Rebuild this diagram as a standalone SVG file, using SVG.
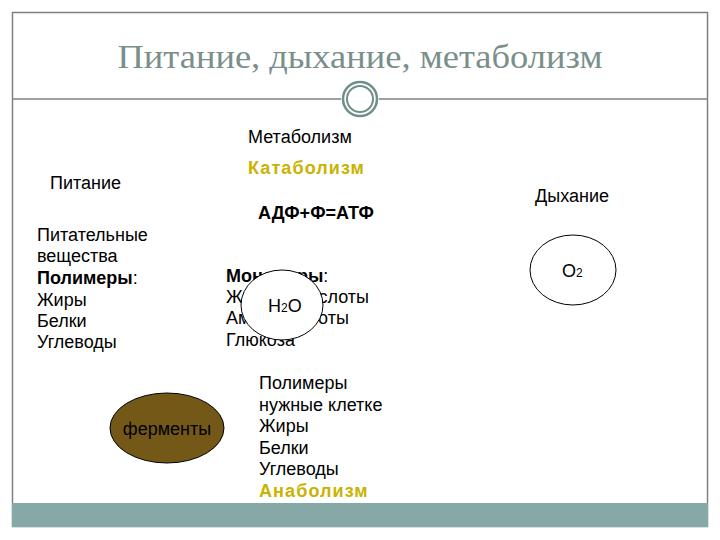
<svg xmlns="http://www.w3.org/2000/svg" width="720" height="540" viewBox="0 0 720 540">
<style>
.t{font-family:"Liberation Sans",Arial,sans-serif;font-size:18px;fill:#000}
.b{font-weight:bold}
.y{fill:#c9b300;font-weight:bold;letter-spacing:1.1px}
.e{stroke:#000;stroke-width:1}
</style>
<rect x="0" y="0" width="720" height="540" fill="#fff"/>
<g id="frame">
<rect x="12.5" y="12.5" width="695" height="514" fill="none" stroke="#808080" stroke-width="1.5"/>
<rect x="12" y="503" width="696" height="24" fill="#86a8a6"/>
<line x1="12.5" y1="99" x2="341" y2="99" stroke="#808080" stroke-width="1.5"/>
<line x1="379" y1="99" x2="707.5" y2="99" stroke="#808080" stroke-width="1.5"/>
<circle cx="360" cy="99" r="17" fill="#fff" stroke="#6f8f8a" stroke-width="2.5"/>
<circle cx="360" cy="99" r="13" fill="none" stroke="#6f8f8a" stroke-width="2"/>
</g>
<text x="360" y="68" text-anchor="middle" font-family="Liberation Serif,serif" font-size="33" fill="#7a8f8c" textLength="485" lengthAdjust="spacingAndGlyphs">Питание, дыхание, метаболизм</text>
<g id="labels">
<text class="t" x="248" y="143">Метаболизм</text>
<text class="t y" x="248" y="174">Катаболизм</text>
<text class="t" x="50" y="189">Питание</text>
<text class="t" x="535" y="202">Дыхание</text>
<text class="t b" x="258" y="219">АДФ+Ф=АТФ</text>
</g>
<g id="nutrients">
<text class="t" x="37" y="241">Питательные</text>
<text class="t" x="37" y="262">вещества</text>
<text class="t" x="37" y="284"><tspan class="b">Полимеры</tspan>:</text>
<text class="t" x="37" y="306">Жиры</text>
<text class="t" x="37" y="327">Белки</text>
<text class="t" x="37" y="348">Углеводы</text>
</g>
<g id="monomers">
<text class="t" x="226" y="282"><tspan class="b">Мономеры</tspan>:</text>
<text class="t" x="226" y="303">Жирные кислоты</text>
<text class="t" x="226" y="324">Аминокислоты</text>
<text class="t" x="226" y="346">Глюкоза</text>
</g>
<g id="h2o">
<ellipse class="e" cx="282" cy="305" rx="41" ry="35" fill="#fff"/>
<text class="t" x="268" y="312">H<tspan font-size="12">2</tspan>O</text>
</g>
<g id="o2">
<ellipse class="e" cx="573" cy="270" rx="43" ry="35" fill="#fff"/>
<text class="t" x="562" y="277">O<tspan font-size="12">2</tspan></text>
</g>
<g id="enzymes">
<ellipse class="e" cx="167" cy="428" rx="57" ry="35" fill="#735818"/>
<text class="t" x="167" y="435" text-anchor="middle" fill="#1a1208">ферменты</text>
</g>
<g id="polymers">
<text class="t" x="259" y="389">Полимеры</text>
<text class="t" x="259" y="411">нужные клетке</text>
<text class="t" x="259" y="432">Жиры</text>
<text class="t" x="259" y="454">Белки</text>
<text class="t" x="259" y="475">Углеводы</text>
<text class="t y" x="259" y="497">Анаболизм</text>
</g>
<g id="connectors"></g>
</svg>
